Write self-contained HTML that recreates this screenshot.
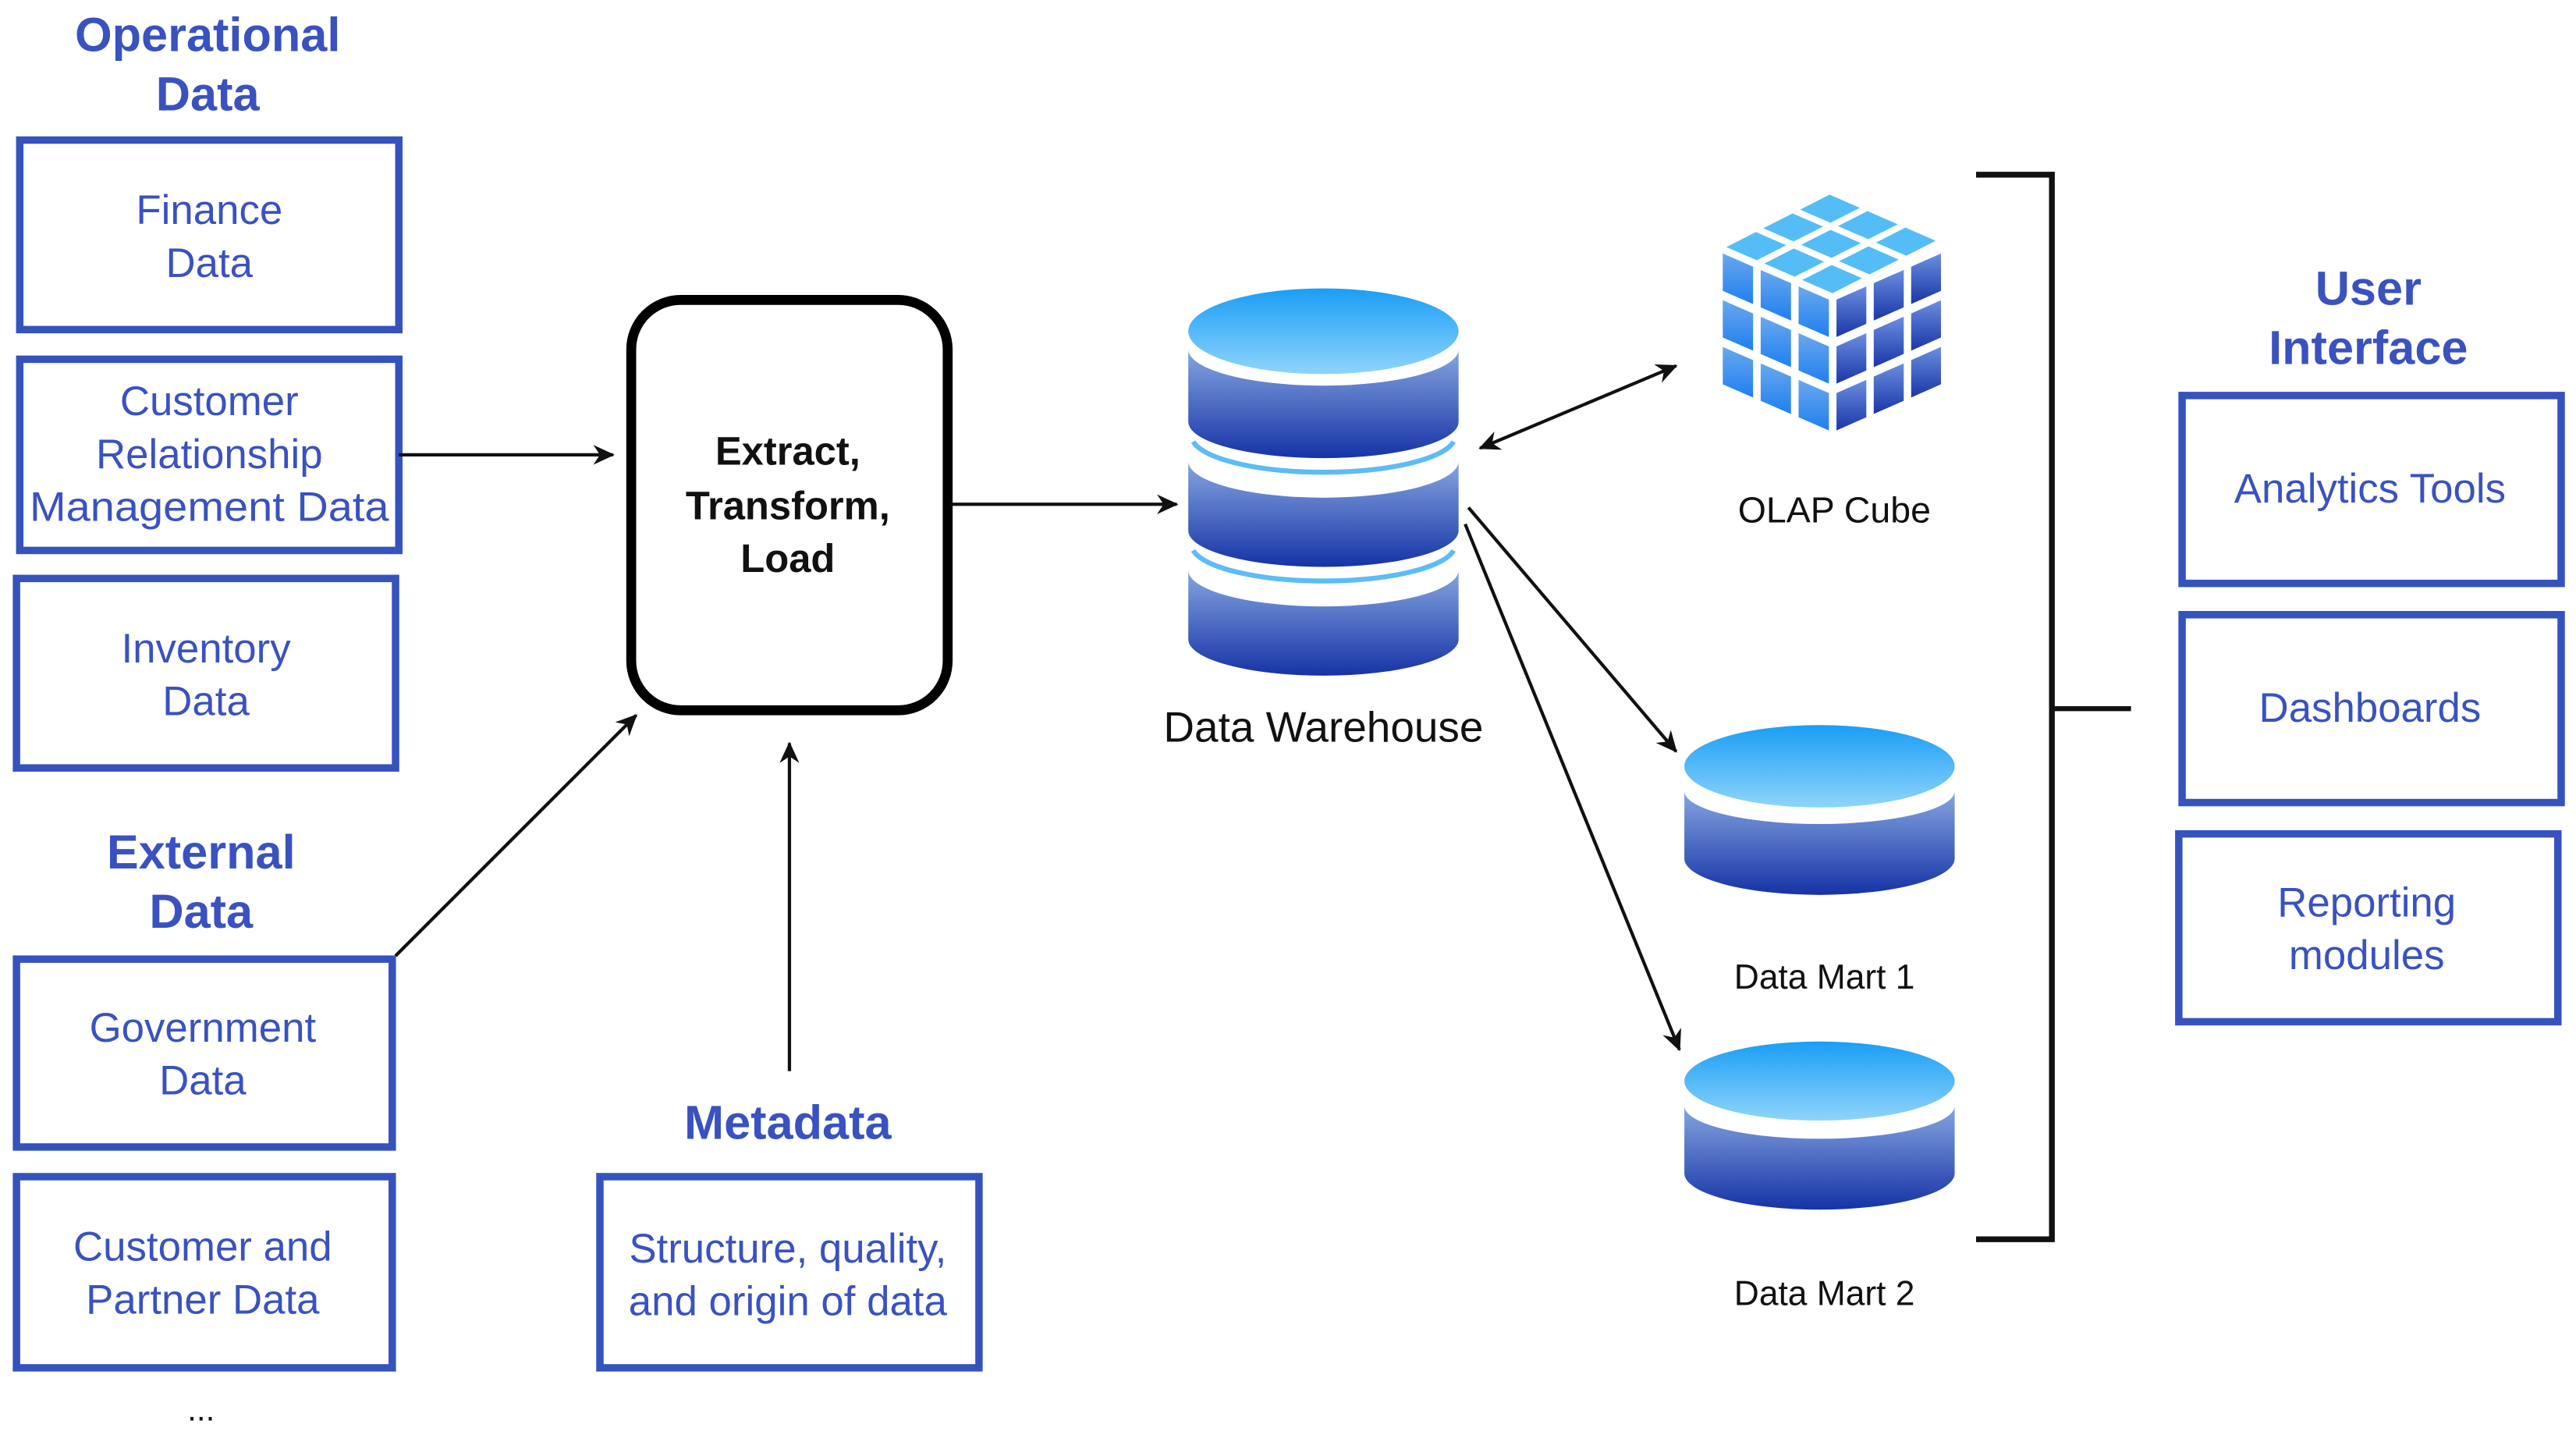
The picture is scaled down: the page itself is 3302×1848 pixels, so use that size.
<!DOCTYPE html>
<html><head><meta charset="utf-8"><style>
html,body{margin:0;padding:0;background:#fff;}
svg{display:block;}
.t{font-family:"Liberation Sans",sans-serif;text-anchor:middle;}
.b{fill:#3a52bf;font-size:25px;}
.h{fill:#3a52bf;font-size:29px;font-weight:bold;}
.k{fill:#111;}
.box{fill:none;stroke:#3553bd;stroke-width:4.5;}
.ln{stroke:#111;stroke-width:2;fill:none;}
</style></head><body>
<svg width="3302" height="1848" viewBox="0 0 1563 875" preserveAspectRatio="none" xmlns="http://www.w3.org/2000/svg">
<defs>
<marker id="ar" markerWidth="14" markerHeight="12" refX="12" refY="6" orient="auto" markerUnits="userSpaceOnUse">
<path d="M0,0 L13,6 L0,12 L4,6 Z" fill="#111"/></marker>
<marker id="as" markerWidth="14" markerHeight="12" refX="1" refY="6" orient="auto" markerUnits="userSpaceOnUse">
<path d="M13,0 L0,6 L13,12 L9,6 Z" fill="#111"/></marker>
<linearGradient id="gt" x1="0" y1="0" x2="0" y2="1"><stop offset="0" stop-color="#1a9ef5"/><stop offset="1" stop-color="#8fd4fb"/></linearGradient>
<linearGradient id="gb" x1="0" y1="0" x2="0" y2="1"><stop offset="0" stop-color="#86a6e0"/><stop offset="1" stop-color="#1633a6"/></linearGradient>
<linearGradient id="gl" x1="0" y1="0" x2="0" y2="1"><stop offset="0" stop-color="#6aa8ec"/><stop offset="1" stop-color="#1f7ff0"/></linearGradient>
<linearGradient id="gr" x1="0" y1="0" x2="0" y2="1"><stop offset="0" stop-color="#6a8fe0"/><stop offset="1" stop-color="#1a36a8"/></linearGradient>
</defs>

<!-- Left column -->
<text class="t h" x="126" y="31">Operational</text>
<text class="t h" x="126" y="67">Data</text>
<rect class="box" x="12" y="85" width="230" height="115"/>
<text class="t b" x="127" y="136">Finance</text><text class="t b" x="127" y="168">Data</text>
<rect class="box" x="12" y="218" width="230" height="116"/>
<text class="t b" x="127" y="252">Customer</text><text class="t b" x="127" y="284">Relationship</text><text class="t b" x="127" y="316" textLength="218" lengthAdjust="spacingAndGlyphs">Management Data</text>
<rect class="box" x="10" y="351" width="230" height="115"/>
<text class="t b" x="125" y="402">Inventory</text><text class="t b" x="125" y="434">Data</text>

<text class="t h" x="122" y="527">External</text>
<text class="t h" x="122" y="563">Data</text>
<rect class="box" x="10" y="582" width="228" height="114"/>
<text class="t b" x="123" y="632">Government</text><text class="t b" x="123" y="664">Data</text>
<rect class="box" x="10" y="714" width="228" height="116"/>
<text class="t b" x="123" y="765">Customer and</text><text class="t b" x="123" y="797">Partner Data</text>
<text class="t k" x="122" y="862" style="font-size:20px">...</text>

<!-- ETL -->
<rect x="383" y="182" width="192" height="249" rx="30" fill="none" stroke="#000" stroke-width="6"/>
<text class="t k" x="478" y="282" style="font-size:24px;font-weight:bold">Extract,</text>
<text class="t k" x="478" y="315" style="font-size:24px;font-weight:bold">Transform,</text>
<text class="t k" x="478" y="347" style="font-size:24px;font-weight:bold">Load</text>

<line class="ln" x1="242" y1="276" x2="372" y2="276" marker-end="url(#ar)"/>
<line class="ln" x1="240" y1="580" x2="386" y2="434" marker-end="url(#ar)"/>
<line class="ln" x1="479" y1="650" x2="479" y2="451" marker-end="url(#ar)"/>
<line class="ln" x1="577" y1="306" x2="714" y2="306" marker-end="url(#ar)"/>

<text class="t h" x="478" y="691">Metadata</text>
<rect class="box" x="364" y="714" width="230" height="116"/>
<text class="t b" x="478" y="766">Structure, quality,</text><text class="t b" x="478" y="798">and origin of data</text>

<!-- Data warehouse -->
<ellipse cx="803" cy="201" rx="82" ry="26" fill="url(#gt)"/>
<path d="M721,212 A82,22 0 0 0 885,212 L885,256 A82,22 0 0 1 721,256 Z" fill="url(#gb)"/>
<path d="M721,280 A82,22 0 0 0 885,280 L885,322 A82,22 0 0 1 721,322 Z" fill="url(#gb)"/>
<path d="M721,346 A82,22 0 0 0 885,346 L885,388 A82,22 0 0 1 721,388 Z" fill="url(#gb)"/>
<path d="M724,268 A80,22 0 0 0 882,268" fill="none" stroke="#5cbcf5" stroke-width="3"/>
<path d="M724,334 A80,22 0 0 0 882,334" fill="none" stroke="#5cbcf5" stroke-width="3"/>
<text class="t k" x="803" y="450" style="font-size:26px">Data Warehouse</text>

<!-- OLAP cube -->
<g id="cube"></g>
<text class="t k" x="1113" y="317" style="font-size:22px">OLAP Cube</text>
<line class="ln" x1="898" y1="272" x2="1017" y2="222" marker-start="url(#as)" marker-end="url(#ar)"/>
<line class="ln" x1="891" y1="308" x2="1017" y2="456" marker-end="url(#ar)"/>
<line class="ln" x1="889" y1="318" x2="1019" y2="637" marker-end="url(#ar)"/>

<!-- Data marts -->
<ellipse cx="1104" cy="465" rx="82" ry="25" fill="url(#gt)"/>
<path d="M1022,480 A82,20 0 0 0 1186,480 L1186,521 A82,22 0 0 1 1022,521 Z" fill="url(#gb)"/>
<text class="t k" x="1107" y="600" style="font-size:21px">Data Mart 1</text>
<ellipse cx="1104" cy="656" rx="82" ry="24" fill="url(#gt)"/>
<path d="M1022,671 A82,20 0 0 0 1186,671 L1186,712 A82,22 0 0 1 1022,712 Z" fill="url(#gb)"/>
<text class="t k" x="1107" y="792" style="font-size:21px">Data Mart 2</text>

<!-- bracket -->
<path d="M1199,106 L1245,106 L1245,752 L1199,752" fill="none" stroke="#111" stroke-width="3.5"/>
<line x1="1245" y1="430" x2="1293" y2="430" stroke="#111" stroke-width="3"/>

<!-- UI -->
<text class="t h" x="1437" y="185">User</text>
<text class="t h" x="1437" y="221">Interface</text>
<rect class="box" x="1324" y="240" width="230" height="114"/>
<text class="t b" x="1438" y="305">Analytics Tools</text>
<rect class="box" x="1324" y="373" width="230" height="114"/>
<text class="t b" x="1438" y="438">Dashboards</text>
<rect class="box" x="1322" y="506" width="230" height="114"/>
<text class="t b" x="1436" y="556">Reporting</text><text class="t b" x="1436" y="588">modules</text>
</svg>
<script>
(function(){
var g=document.getElementById('cube'),ns='http://www.w3.org/2000/svg',gap=0.1;
function face(O,u,v,fill){
 for(var i=0;i<3;i++)for(var j=0;j<3;j++){
  var a=(i+gap)/3,b=(i+1-gap)/3,c=(j+gap)/3,d=(j+1-gap)/3;
  function P(s,t){return (O[0]+s*u[0]+t*v[0]).toFixed(1)+','+(O[1]+s*u[1]+t*v[1]).toFixed(1);}
  var p=document.createElementNS(ns,'polygon');
  p.setAttribute('points',[P(a,c),P(b,c),P(b,d),P(a,d)].join(' '));
  p.setAttribute('fill',fill);g.appendChild(p);
 }}
face([1043,150],[67,-34],[69,30],'#55bdf6');
face([1043,150],[69,30],[0,85],'url(#gl)');
face([1112,180],[68,-30],[0,85],'url(#gr)');
})();
</script>
</body></html>
